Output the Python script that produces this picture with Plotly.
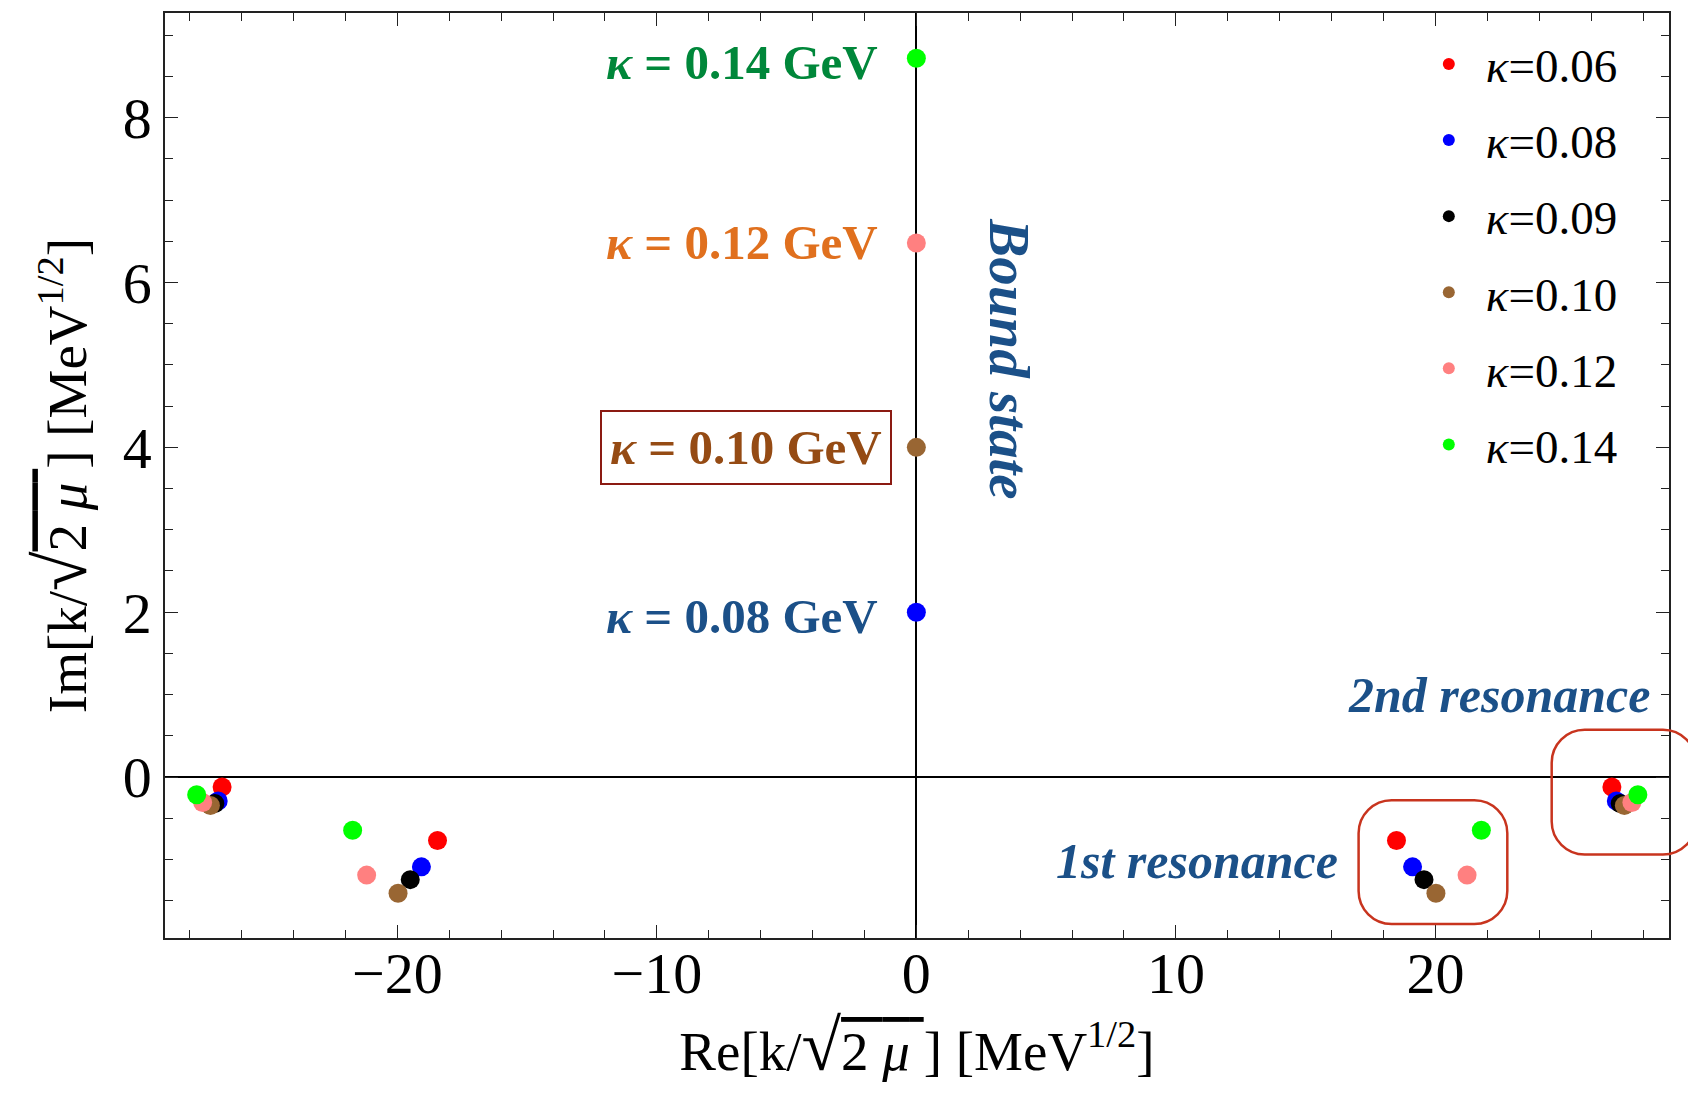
import plotly.graph_objects as go

# --- pole positions k/sqrt(2 mu) in MeV^(1/2) for each cutoff kappa (GeV) ---
kappa_labels = ["0.06", "0.08", "0.09", "0.10", "0.12", "0.14"]
marker_colors = ["#FF0000", "#0000FF", "#000000", "#996633", "#FF8080", "#00FF00"]

# first resonance pair (right / left half-plane)
re_first_right = [18.5, 19.12, 19.56, 20.02, 21.22, 21.77]
re_first_left = [-18.45, -19.07, -19.5, -19.97, -21.18, -21.72]
im_first = [-0.77, -1.09, -1.245, -1.41, -1.19, -0.645]

# second resonance pair
re_second_right = [26.8, 26.97, 27.12, 27.28, 27.57, 27.8]
re_second_left = [-26.75, -26.9, -27.03, -27.2, -27.5, -27.73]
im_second = [-0.12, -0.29, -0.32, -0.345, -0.31, -0.215]

# bound states on the imaginary axis (None where there is no bound state)
im_bound = [None, 2.0, None, 4.0, 6.48, 8.72]

# annotation texts
bound_labels = [
    ("0.14", 8.67, "#00873A"),
    ("0.12", 6.48, "#E0701E"),
    ("0.10", 4.0, "#954B14"),
    ("0.08", 1.95, "#1B5088"),
]

X_RANGE = [-28.95, 29.0]
Y_RANGE = [-1.953, 9.27]
W, H = 1688, 1095
M_L, M_R, M_T, M_B = 165, 19, 11, 157
PW, PH = W - M_L - M_R, H - M_T - M_B

SERIF = "Liberation Serif, Times New Roman, serif"
TEXT_BLUE = "#1B5088"
BOX_RED = "#C8341E"

fig = go.Figure()

for i, lab in enumerate(kappa_labels):
    xs = [re_first_left[i], re_first_right[i], re_second_left[i], re_second_right[i]]
    ys = [im_first[i], im_first[i], im_second[i], im_second[i]]
    if im_bound[i] is not None:
        xs.append(0.0)
        ys.append(im_bound[i])
    fig.add_trace(go.Scatter(
        x=xs, y=ys, mode="markers",
        name=f"<i>κ</i>=0{lab[1:]}",
        legendgroup=lab,
        marker=dict(size=19, color=marker_colors[i], line=dict(width=0)),
    ))


def to_paper(x, y):
    px = (x - X_RANGE[0]) / (X_RANGE[1] - X_RANGE[0])
    py = (y - Y_RANGE[0]) / (Y_RANGE[1] - Y_RANGE[0])
    return px, py


def rounded_box(x0, x1, y0, y1, r_px):
    """Rounded rectangle path in paper coordinates from data-space bounds."""
    a, b = to_paper(x0, y0)
    c, d = to_paper(x1, y1)
    rx, ry = r_px / PW, r_px / PH
    k = 0.5523
    p = [
        f"M {a + rx},{d}",
        f"L {c - rx},{d}",
        f"C {c - rx + k * rx},{d} {c},{d - ry + k * ry} {c},{d - ry}",
        f"L {c},{b + ry}",
        f"C {c},{b + ry - k * ry} {c - rx + k * rx},{b} {c - rx},{b}",
        f"L {a + rx},{b}",
        f"C {a + rx - k * rx},{b} {a},{b + ry - k * ry} {a},{b + ry}",
        f"L {a},{d - ry}",
        f"C {a},{d - ry + k * ry} {a + rx - k * rx},{d} {a + rx},{d}",
        "Z",
    ]
    return " ".join(p)


fig.add_shape(type="path", xref="paper", yref="paper",
              path=rounded_box(17.04, 22.77, -1.783, -0.282, 33),
              line=dict(color=BOX_RED, width=2.5))
fig.add_shape(type="path", xref="paper", yref="paper",
              path=rounded_box(24.48, 30.04, -0.94, 0.574, 33),
              line=dict(color=BOX_RED, width=2.5))

for val, yv, col in bound_labels:
    boxed = val == "0.10"
    fig.add_annotation(
        x=-0.955 if boxed else -1.49, y=yv, xref="x", yref="y",
        text=f"<b><i>κ</i> = {val} GeV</b>",
        showarrow=False, xanchor="right", yanchor="middle",
        font=dict(family=SERIF, size=49, color=col),
        bordercolor="#8B1A12" if boxed else None,
        borderwidth=2 if boxed else 0,
        borderpad=8 if boxed else 0,
    )

fig.add_annotation(x=3.61, y=5.08, xref="x", yref="y",
                   text="<b><i>Bound state</i></b>", textangle=90,
                   showarrow=False, xanchor="center", yanchor="middle",
                   font=dict(family=SERIF, size=57, color=TEXT_BLUE))
fig.add_annotation(x=28.36, y=1.0, xref="x", yref="y",
                   text="<b><i>2nd resonance</i></b>",
                   showarrow=False, xanchor="right", yanchor="middle",
                   font=dict(family=SERIF, size=50, color=TEXT_BLUE))
fig.add_annotation(x=16.34, y=-1.023, xref="x", yref="y",
                   text="<b><i>1st resonance</i></b>",
                   showarrow=False, xanchor="right", yanchor="middle",
                   font=dict(family=SERIF, size=50, color=TEXT_BLUE))

sqrt_part = ("<span style='font-size:72px'>√</span>"
             "<span style='text-decoration:overline'>2 <i>μ</i> </span>")
axis_common = dict(
    showline=True, linecolor="#222222", linewidth=1.5, mirror="ticks",
    ticks="inside", ticklen=13, tickwidth=1.2, tickcolor="#222222",
    showgrid=False, zeroline=True, zerolinecolor="#000000", zerolinewidth=1.5,
    tickfont=dict(family=SERIF, size=58, color="#000000"),
    layer="above traces",
)

fig.update_xaxes(
    range=X_RANGE, tick0=0, dtick=10, ticklabelstandoff=-16,
    minor=dict(dtick=2, ticks="inside", ticklen=8, tickcolor="#222222", tickwidth=1.2),
    title=dict(text=f"Re[k/{sqrt_part}] [MeV<sup>1/2</sup>]",
               font=dict(family=SERIF, size=55, color="#000000"), standoff=0),
    **axis_common,
)
fig.update_yaxes(
    range=Y_RANGE, tick0=0, dtick=2,
    minor=dict(dtick=0.5, ticks="inside", ticklen=8, tickcolor="#222222", tickwidth=1.2),
    title=dict(text=f"Im[k/{sqrt_part}] [MeV<sup>1/2</sup>]",
               font=dict(family=SERIF, size=55, color="#000000"), standoff=18),
    **axis_common,
)

fig.update_layout(
    width=W, height=H,
    margin=dict(l=M_L, r=M_R, t=M_T, b=M_B),
    paper_bgcolor="white", plot_bgcolor="white",
    showlegend=True,
    legend=dict(
        x=0.829, y=0.985, xanchor="left", yanchor="top",
        bgcolor="rgba(0,0,0,0)", borderwidth=0,
        font=dict(family=SERIF, size=47, color="#000000"),
        itemsizing="constant", itemwidth=64, tracegroupgap=12,
    ),
)

fig.write_html("out.html")
